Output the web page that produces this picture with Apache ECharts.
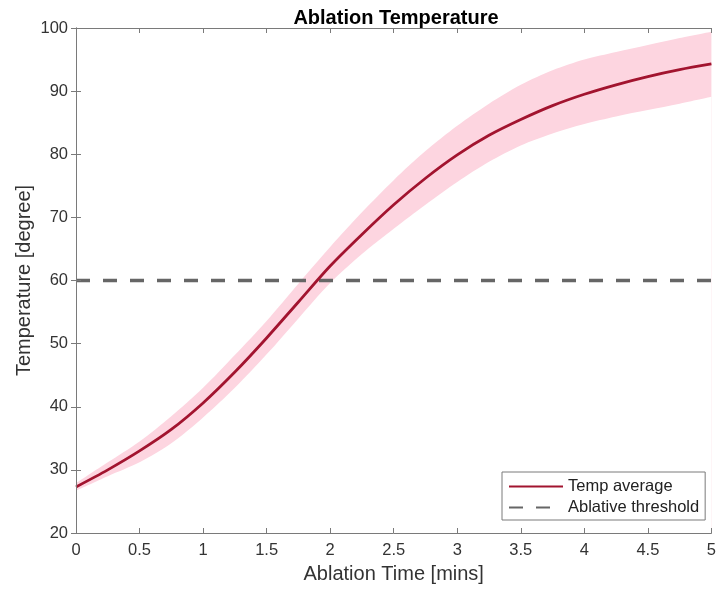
<!DOCTYPE html>
<html>
<head>
<meta charset="utf-8">
<script src="https://cdn.jsdelivr.net/npm/echarts@6/dist/echarts.min.js"></script>
<style>html,body{margin:0;padding:0;background:#fff}#c{width:719px;height:591px}</style>
</head>
<body>
<div id="c"></div>
<script>
var times = [0,0.25,0.5,0.75,1.0,1.25,1.5,1.75,2.0,2.25,2.5,2.75,3.0,3.25,3.5,3.75,4.0,4.25,4.5,4.75,5.0];
var tempAverage = [27.3,30.0,33.0,36.4,40.6,45.5,50.9,56.6,62.3,67.3,72.0,76.2,79.9,83.0,85.5,87.7,89.5,91.0,92.3,93.4,94.3];
var tempUpper = [27.9,31.2,34.5,38.5,43.0,48.2,53.6,59.5,65.3,70.8,75.9,80.5,84.5,88.0,91.0,93.3,95.0,96.2,97.3,98.4,99.4];
var tempLower = [26.7,29.0,31.2,34.2,38.3,43.0,48.3,54.0,59.6,64.2,68.2,72.0,75.6,78.8,81.4,83.3,84.8,86.0,87.0,88.0,89.1];
var thresholdX = [0,5];
var thresholdValue = 60;
var seriesNames = ['Temp average','Ablative threshold'];

var upperData = times.map(function(t,i){return [t,tempUpper[i]];});
var lowerData = times.map(function(t,i){return [t,tempLower[i]];});
var avgData = times.map(function(t,i){return [t,tempAverage[i]];});
var thrData = thresholdX.map(function(t){return [t,thresholdValue];});

var axisCol = '#7a7a7a';
var txtCol = '#333333';
var font = 'Liberation Sans, Arial, Helvetica, sans-serif';

var chart = echarts.init(document.getElementById('c'));
chart.setOption({
  animation:false,
  backgroundColor:'#ffffff',
  title:{text:'Ablation Temperature',left:391,textAlign:'center',top:3,
    textStyle:{fontFamily:font,fontSize:20,fontWeight:'bold',color:'#000'}},
  grid:{left:76,right:3,top:28,bottom:58},
  legend:{
    data:seriesNames,orient:'vertical',left:502,top:472,
    backgroundColor:'#fff',borderColor:axisCol,borderWidth:1,
    padding:[6,6,4,6],itemGap:4,itemWidth:54,itemHeight:14,
    itemStyle:{opacity:0},
    textStyle:{fontFamily:font,fontSize:16.5,color:'#222'},
    z:20
  },
  xAxis:[{
    type:'value',min:0,max:5,interval:0.5,z:10,
    name:'Ablation Time [mins]',nameLocation:'middle',nameGap:31,nameMoveOverlap:false,
    nameTextStyle:{fontFamily:font,fontSize:20,color:txtCol},
    axisLine:{show:true,lineStyle:{color:axisCol,width:1}},
    axisTick:{show:true,inside:true,length:5,lineStyle:{color:axisCol}},
    axisLabel:{fontFamily:font,fontSize:16.5,color:txtCol,margin:9},
    splitLine:{show:false}
  },{
    type:'value',min:0,max:5,interval:0.5,position:'top',z:10,
    axisLine:{show:true,lineStyle:{color:axisCol,width:1}},
    axisTick:{show:true,inside:true,length:5,lineStyle:{color:axisCol}},
    axisLabel:{show:false},splitLine:{show:false}
  }],
  yAxis:[{
    type:'value',min:20,max:100,interval:10,z:10,
    name:'Temperature [degree]',nameLocation:'middle',nameGap:42,nameMoveOverlap:false,
    nameTextStyle:{fontFamily:font,fontSize:20,color:txtCol},
    axisLine:{show:true,lineStyle:{color:axisCol,width:1}},
    axisTick:{show:true,inside:true,length:5,lineStyle:{color:axisCol}},
    axisLabel:{fontFamily:font,fontSize:16.5,color:txtCol,margin:8},
    splitLine:{show:false}
  },{
    type:'value',min:20,max:100,interval:10,position:'right',z:10,
    axisLine:{show:true,lineStyle:{color:axisCol,width:1}},
    axisTick:{show:true,inside:true,length:5,lineStyle:{color:axisCol}},
    axisLabel:{show:false},splitLine:{show:false}
  }],
  series:[
    {name:'upper',type:'line',data:upperData,symbol:'none',smooth:0.3,
     lineStyle:{width:0,opacity:0},areaStyle:{color:'#fdd5e0',opacity:1,origin:'start'},silent:true,z:1},
    {name:'lower',type:'line',data:lowerData,symbol:'none',smooth:0.3,
     lineStyle:{width:0,opacity:0},areaStyle:{color:'#ffffff',opacity:1,origin:'start'},silent:true,z:2},
    {name:seriesNames[1],type:'line',data:thrData,symbol:'none',
     lineStyle:{color:'#666666',width:3.5,type:[14,13]},itemStyle:{color:'#666666'},z:3},
    {name:seriesNames[0],type:'line',data:avgData,symbol:'none',smooth:0.3,
     lineStyle:{color:'#a2142f',width:2.8},itemStyle:{color:'#a2142f'},z:4}
  ]
});
</script>
</body>
</html>
